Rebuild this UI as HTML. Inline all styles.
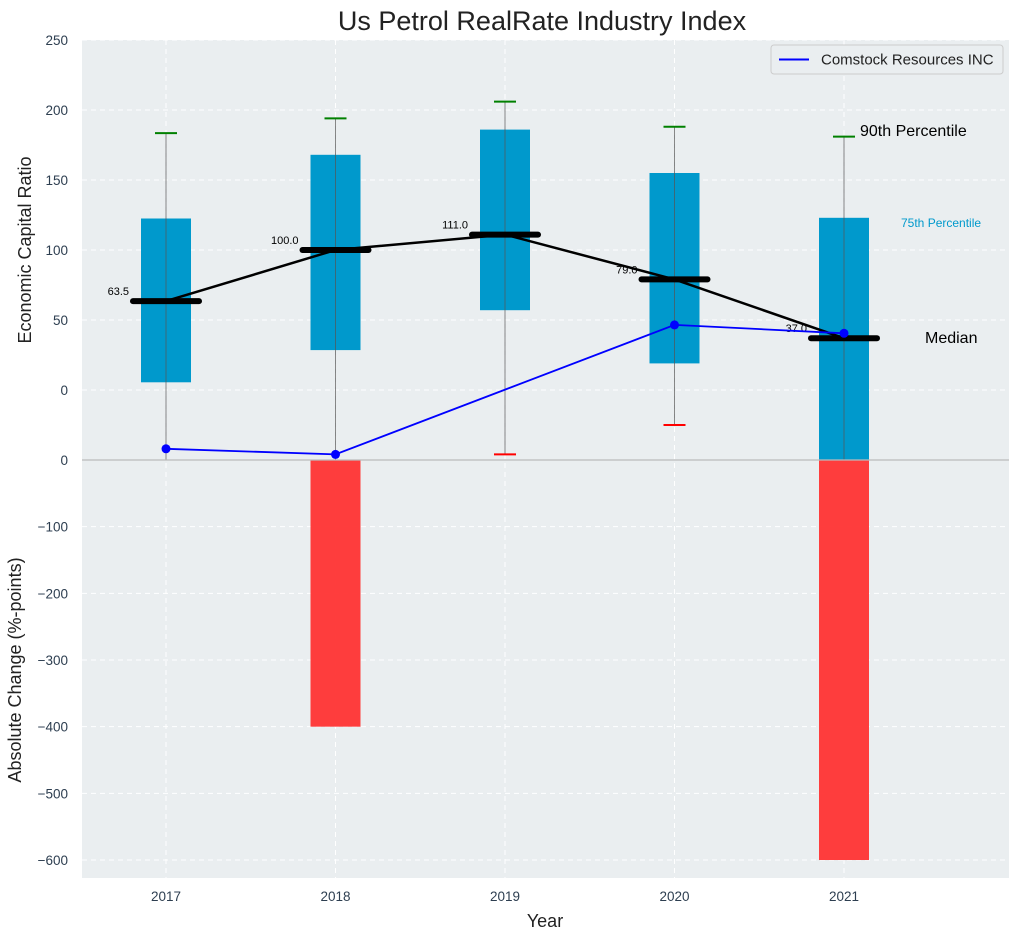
<!DOCTYPE html>
<html><head><meta charset="utf-8"><style>
body{margin:0;background:#fff;font-family:"Liberation Sans",sans-serif}
svg text{font-family:"Liberation Sans",sans-serif}
</style></head><body>
<svg id="c" width="1021" height="940" xmlns="http://www.w3.org/2000/svg"></svg>
<script>
const years=[2017,2018,2019,2020,2021];
const q25=[5.5,28.5,57,19,-50];
const q75=[122.5,168,186,155,123];
const p90=[183.5,194,206,188,181];
const p10=[-60,-60,-46,-25,-60];
const capLow=[false,false,true,true,false];
const medians=[63.5,100,111,79,37];
const company=[-42,-46,null,46.5,40.5];
const changes=[0,-400,0,0,-600];
const topTicks=[0,50,100,150,200,250];
const botTicks=[0,-100,-200,-300,-400,-500,-600];

const svg=document.getElementById('c');const NS='http://www.w3.org/2000/svg';
function el(t,a,p){const e=document.createElementNS(NS,t);for(const k in a)e.setAttribute(k,a[k]);(p||svg).appendChild(e);return e;}
const L=82,R=1009;
const x=v=>166+(v-2017)*169.5;
const yT=v=>390-v*1.4;
const yB=v=>460-v*0.6667;
const TOP=40,MID=460,BOT=878;

let g=el('rect',{x:L,y:TOP,width:R-L,height:BOT-TOP,fill:'#eaeef0'});

const defs=el('defs',{});
const cp=el('clipPath',{id:'ct'},defs);el('rect',{x:L,y:TOP,width:R-L,height:MID-TOP},cp);
const cb=el('clipPath',{id:'cb'},defs);el('rect',{x:L,y:MID,width:R-L,height:BOT-MID},cb);
years.forEach(yv=>{const l=el('line',{x1:x(yv),x2:x(yv),y1:TOP,y2:BOT,stroke:'#fff','stroke-dasharray':'5,4','stroke-width':1});
});
topTicks.forEach(t=>{const l=el('line',{x1:L,x2:R,y1:yT(t),y2:yT(t),stroke:'#fff','stroke-dasharray':'5,4'});

const tx=el('text',{x:68,y:yT(t)+5,'text-anchor':'end','font-size':13.5,fill:'#2d3e50'});tx.textContent=t;
});
botTicks.forEach(t=>{const l=el('line',{x1:L,x2:R,y1:yB(t),y2:yB(t),stroke:'#fff','stroke-dasharray':'5,4'});

const tx=el('text',{x:68,y:yB(t)+5,'text-anchor':'end','font-size':13.5,fill:'#2d3e50'});tx.textContent=String(t).replace('-','\u2212');
});
const gt=el('g',{'clip-path':'url(#ct)'});
years.forEach((yv,i)=>{
 const b=el('rect',{x:x(yv)-25,y:yT(q75[i]),width:50,height:yT(q25[i])-yT(q75[i]),fill:'#0099cc'},gt);
 
 const w=el('line',{x1:x(yv),x2:x(yv),y1:yT(p90[i]),y2:yT(p10[i]),stroke:'#555','stroke-width':1,opacity:0.7},gt);
 
 const c=el('line',{x1:x(yv)-11,x2:x(yv)+11,y1:yT(p90[i]),y2:yT(p90[i]),stroke:'green','stroke-width':2},gt);
 
 if(capLow[i]){const c2=el('line',{x1:x(yv)-11,x2:x(yv)+11,y1:yT(p10[i]),y2:yT(p10[i]),stroke:'red','stroke-width':2},gt);
 }
});
const mp=el('polyline',{points:years.map((yv,i)=>x(yv)+','+yT(medians[i])).join(' '),fill:'none',stroke:'#000','stroke-width':2.5},gt);

years.forEach((yv,i)=>{
 const m=el('line',{x1:x(yv)-33,x2:x(yv)+33,y1:yT(medians[i]),y2:yT(medians[i]),stroke:'#000','stroke-width':6,'stroke-linecap':'round'},gt);
 
 const t=el('text',{x:x(yv)-37,y:yT(medians[i])-6,'text-anchor':'end','font-size':11,fill:'#000'},gt);t.textContent=medians[i].toFixed(1);
 
});
const cpts=years.map((yv,i)=>company[i]==null?null:[x(yv),yT(company[i])]).filter(p=>p);
const cl=el('polyline',{points:cpts.map(p=>p.join(',')).join(' '),fill:'none',stroke:'#0000ff','stroke-width':1.8},gt);

cpts.forEach(p=>{const d=el('circle',{cx:p[0],cy:p[1],r:4.5,fill:'#0000ff'},gt);
});
const gb=el('g',{'clip-path':'url(#cb)'});
years.forEach((yv,i)=>{if(changes[i]===0)return;
 const b=el('rect',{x:x(yv)-25,y:yB(0),width:50,height:yB(changes[i])-yB(0),fill:'#ff3333',opacity:0.95},gb);
 });
const sep=el('line',{x1:L,x2:R,y1:MID,y2:MID,stroke:'#bbb','stroke-width':1.2});

years.forEach(yv=>{const t=el('text',{x:x(yv),y:901,'text-anchor':'middle','font-size':13.5,fill:'#2d3e50'});t.textContent=yv;
});
function txt(s,a,n){const t=el('text',a);t.textContent=s;return t;}
txt('90th Percentile',{x:860,y:136,'font-size':16,fill:'#000'},'p90-annotation');
txt('75th Percentile',{x:901,y:227,'font-size':12,fill:'#0099cc'},'p75-annotation');
txt('Median',{x:925,y:343,'font-size':16,fill:'#000'},'median-annotation');
txt('Us Petrol RealRate Industry Index',{x:542,y:30,'text-anchor':'middle','font-size':27,fill:'#222'},'chart-title');
txt('Year',{x:545,y:927,'text-anchor':'middle','font-size':18,fill:'#222'},'x-axis-title');
txt('Economic Capital Ratio',{x:0,y:0,'text-anchor':'middle','font-size':18,fill:'#222',transform:'translate(31,250) rotate(-90)'},'y-axis-title');
txt('Absolute Change (%-points)',{x:0,y:0,'text-anchor':'middle','font-size':18,fill:'#222',transform:'translate(21,670) rotate(-90)'},'y2-axis-title');
const lg=el('g',{});
el('rect',{x:771,y:45,width:232,height:29,rx:3,fill:'#eaeef0',stroke:'#ccc'},lg);
el('line',{x1:779,x2:809,y1:59.5,y2:59.5,stroke:'#0000ff','stroke-width':2},lg);
const lt=el('text',{x:821,y:64.5,'font-size':15,fill:'#222'},lg);lt.textContent='Comstock Resources INC';

</script>
</body></html>
